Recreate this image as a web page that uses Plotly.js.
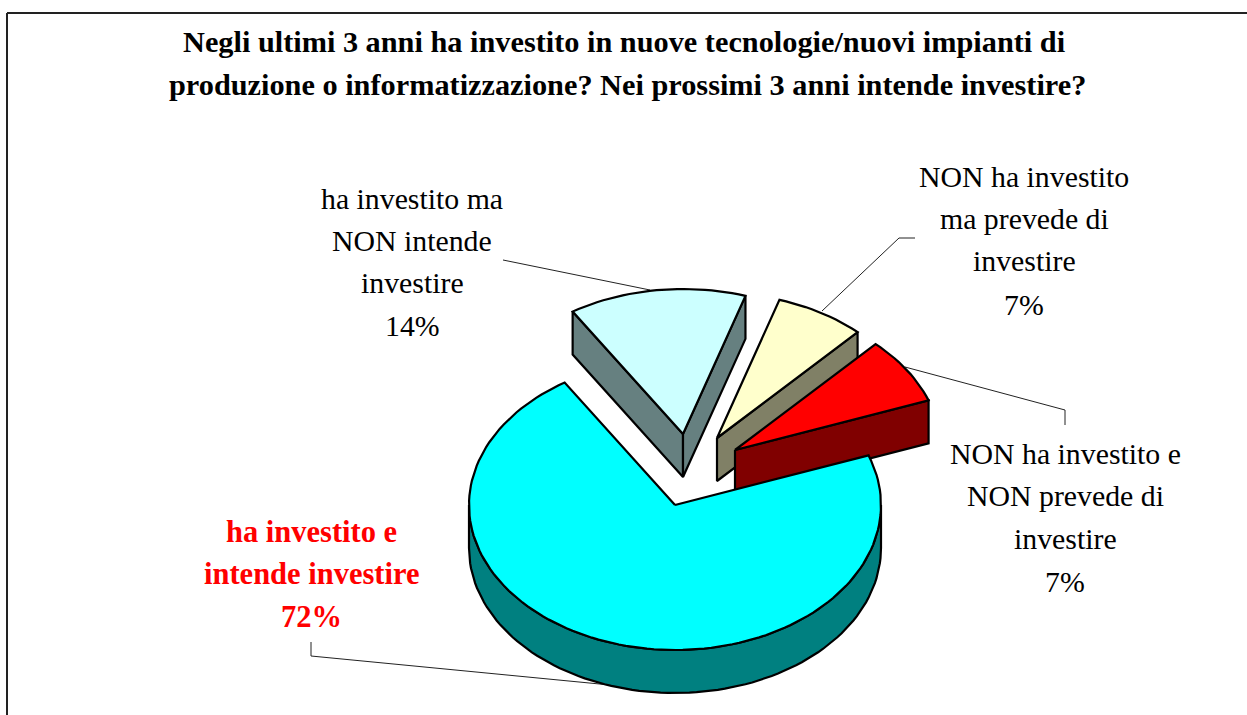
<!DOCTYPE html>
<html><head><meta charset="utf-8">
<script src="https://cdn.plot.ly/plotly-3.0.1.min.js"></script>
<style>html,body{margin:0;padding:0;background:#fff}#c{width:1247px;height:715px}</style>
</head><body><div id="c"></div>
<script>
// ---- data ----
const categories = ["ha investito e intende investire","ha investito ma NON intende investire","NON ha investito ma prevede di investire","NON ha investito e NON prevede di investire"];
const values = [71.55, 13.9, 7.05, 7.49];
const titleLines = ["Negli ultimi 3 anni ha investito in nuove tecnologie/nuovi impianti di","produzione o informatizzazione? Nei prossimi 3 anni intende investire?"];
const labelLines = [
  ["ha investito e","intende investire","72%"],
  ["ha investito ma","NON intende","investire","14%"],
  ["NON ha investito","ma prevede di","investire","7%"],
  ["NON ha investito e","NON prevede di","investire","7%"]
];
const topColors  = ["#00ffff","#ccffff","#ffffcc","#ff0000"];
const sideColors = ["#008080","#668080","#808066","#800000"];

// ---- geometry of the drawing ----
const RX = 206, RY = 145, DEPTH = 43, START = 70;
const apex = [[675,505],[683,434],[717,438],[735,450]];
const labelPos = [
  {x:311, y:[532,574,617]},
  {x:412, y:[198,240,282,325]},
  {x:1024,y:[176,218,260,304]},
  {x:1065,y:[453,495,538,581]}
];
const leaders = [
  [[311,642],[311,656],[610,685]],
  [[503,260],[650,290]],
  [[915,238],[899,238],[822,311]],
  [[1065,425],[1065,410],[905,367]]
];
const total = values.reduce((a,b)=>a+b,0);
let a0 = START;
const spans = values.map(v=>{const s=[a0,a0+v/total*360];a0=s[1];return s;});
const pt = (c,deg,dz=0)=>[c[0]+RX*Math.sin(deg*Math.PI/180), c[1]-RY*Math.cos(deg*Math.PI/180)+dz];
function arc(c,from,to,dz=0){const n=Math.max(2,Math.ceil(Math.abs(to-from)/2));const o=[];for(let i=0;i<=n;i++)o.push(pt(c,from+(to-from)*i/n,dz));return o;}
const poly=(pts,fill,name)=>({type:"scatter",mode:"lines",x:pts.map(p=>p[0]).concat(pts[0][0]),y:pts.map(p=>p[1]).concat(pts[0][1]),fill:"toself",fillcolor:fill,line:{color:"#000",width:2.2},hoverinfo:"skip",name:name,showlegend:false});
const quad=(a,b,fill,name)=>poly([a,b,[b[0],b[1]+DEPTH],[a[0],a[1]+DEPTH]],fill,name);

const traces=[];
// leader lines behind the slices
leaders.forEach((l,i)=>traces.push({type:"scatter",mode:"lines",x:l.map(p=>p[0]),y:l.map(p=>p[1]),line:{color:"#222",width:1},hoverinfo:"skip",showlegend:false}));
// ha investito ma NON intende investire
{const i=1,c=apex[i],[s,e]=spans[i];
 traces.push(quad(pt(c,s),c,sideColors[i],categories[i]));
 traces.push(quad(c,pt(c,e),sideColors[i],categories[i]));
 traces.push(poly([c].concat(arc(c,s,e)),topColors[i],categories[i]));}
// NON ha investito ma prevede di investire
{const i=2,c=apex[i],[s,e]=spans[i];
 traces.push(quad(c,pt(c,e),sideColors[i],categories[i]));
 traces.push(poly([c].concat(arc(c,s,e)),topColors[i],categories[i]));}
// NON ha investito e NON prevede di investire
{const i=3,c=apex[i],[s,e]=spans[i];
 traces.push(quad(c,pt(c,e),sideColors[i],categories[i]));
 traces.push(poly([c].concat(arc(c,s,e)),topColors[i],categories[i]));}
// ha investito e intende investire
{const i=0,c=apex[i],[s,e]=spans[i];
 traces.push(poly(arc(c,90,270).concat(arc(c,270,90,DEPTH)),sideColors[i],categories[i]));
 traces.push(poly([c].concat(arc(c,s,e)),topColors[i],categories[i]));}

const ann=[];
const text=(t,x,y,size,color,bold)=>ann.push({xref:"x",yref:"y",x,y,text:bold?"<b>"+t+"</b>":t,showarrow:false,xanchor:"center",yanchor:"middle",font:{family:"Liberation Serif",size,color}});
text(titleLines[0],623.5,42,30.3,"#000",true);
text(titleLines[1],627.5,85,30.3,"#000",true);
labelLines.forEach((ls,i)=>ls.forEach((t,j)=>text(t,labelPos[i].x,labelPos[i].y[j],i===0?30.5:29.8,i===0?"#ff0000":"#000",i===0)));

Plotly.newPlot("c",traces,{
  width:1247,height:715,margin:{l:0,r:0,t:0,b:0},paper_bgcolor:"#fff",plot_bgcolor:"#fff",showlegend:false,
  xaxis:{range:[0,1247],visible:false,fixedrange:true},
  yaxis:{range:[715,0],visible:false,fixedrange:true},
  annotations:ann,
  shapes:[{type:"line",xref:"x",yref:"y",x0:7,y0:13,x1:1247,y1:13,line:{color:"#222",width:2}},
          {type:"line",xref:"x",yref:"y",x0:7,y0:13,x1:7,y1:715,line:{color:"#222",width:2}}]
},{staticPlot:true,displayModeBar:false});
</script></body></html>
